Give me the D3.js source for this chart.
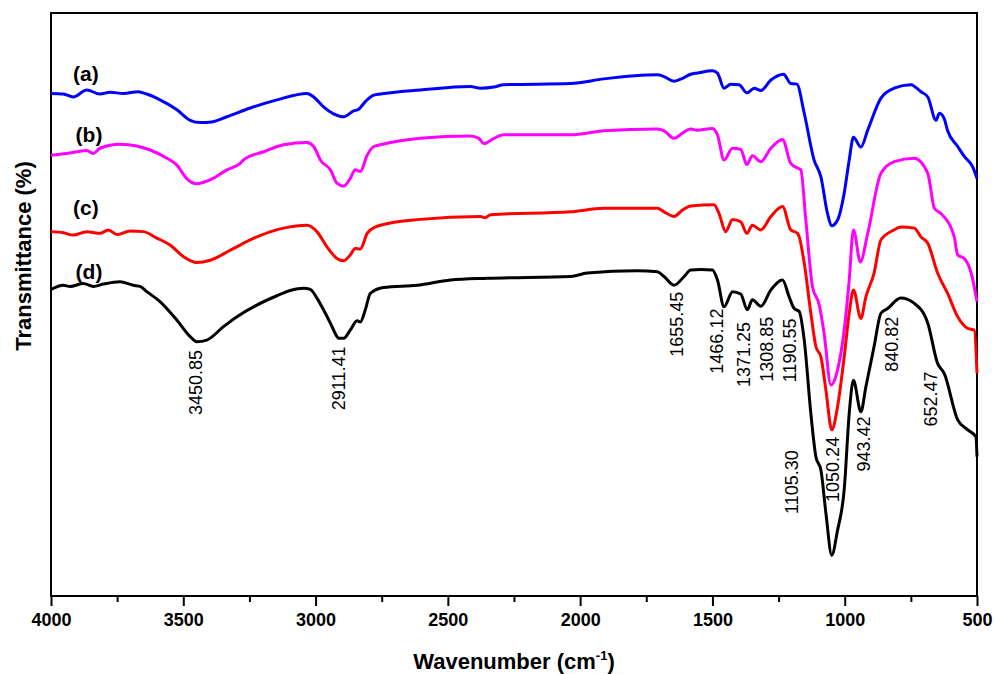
<!DOCTYPE html>
<html>
<head>
<meta charset="utf-8">
<script src="https://cdn.jsdelivr.net/npm/d3@7"></script>
<style>
  body { margin: 0; background: #fff; }
  text { font-family: "Liberation Sans", Arial, sans-serif; }
</style>
</head>
<body>
<svg id="chart" width="994" height="674"></svg>
<script>
// FTIR spectra, [wavenumber (cm-1), transmittance (arb. %)]
const seriesA = [
  [4000,86.2],[3953,86.1],[3916,85.6],[3865,86.8],[3815,86.1],[3777,86.4],[3726,86.2],[3670,86.5],
  [3638,86.1],[3588,85.1],[3524,83.4],[3474,81.6],[3436,81.2],[3392,81.3],[3335,82.2],[3247,83.7],
  [3146,85.1],[3032,86.2],[3007,85.6],[2970,83.9],[2932,82.7],[2894,82.2],[2856,83.2],[2837,83.5],
  [2812,84.8],[2780,85.9],[2755,86.1],[2604,86.8],[2415,87.4],[2377,87.1],[2326,87.3],[2289,87.7],
  [2036,87.9],[1910,88.7],[1708,89.4],[1683,89.1],[1645,88.3],[1613,88.8],[1582,89.5],[1557,89.7],
  [1500,90.1],[1481,89.7],[1456,87.1],[1431,87.8],[1399,87.7],[1370,86.3],[1342,87.1],[1317,86.7],
  [1279,88.5],[1231,89.5],[1204,87.9],[1181,87.8],[1153,82.8],[1116,74.8],[1090,71.9],[1065,65.6],
  [1050,63.5],[1027,64.5],[1002,69.1],[983,74.8],[967,78.7],[939,77.0],[913,79.9],[863,85.4],
  [813,87.1],[750,87.7],[712,86.5],[686,85.6],[655,81.6],[642,82.8],[624,81.9],[611,79.8],
  [573,77.1],[548,75.4],[516,73.6],[500,71.6]
];
const seriesB = [
  [4000,75.6],[3941,75.9],[3865,76.4],[3840,75.9],[3815,76.8],[3739,77.5],[3676,77.2],[3625,76.5],
  [3562,75.1],[3524,73.9],[3487,71.6],[3449,70.7],[3398,71.4],[3335,73.1],[3285,74.2],[3272,74.8],
  [3197,76.2],[3121,77.4],[3032,77.8],[3007,77.1],[2982,74.8],[2944,73.1],[2919,70.8],[2894,70.3],
  [2869,71.6],[2850,73.1],[2831,72.8],[2805,75.6],[2780,77.1],[2755,77.4],[2604,78.5],[2415,78.9],
  [2383,78.5],[2364,77.6],[2326,78.5],[2289,79.1],[2036,79.1],[1910,79.8],[1708,80.1],[1683,79.8],
  [1645,78.5],[1613,79.4],[1582,80.1],[1557,79.9],[1500,80.2],[1481,79.1],[1456,74.8],[1424,76.8],
  [1393,76.6],[1370,74.0],[1349,75.5],[1317,74.5],[1279,76.8],[1235,78.3],[1204,74.2],[1178,73.4],
  [1166,73.1],[1147,64.5],[1122,53.1],[1096,49.9],[1078,45.1],[1052,36.2],[1027,38.8],[1002,45.6],
  [983,54.2],[967,62.8],[941,57.3],[913,62.2],[863,72.5],[813,74.5],[737,75.1],[686,72.5],
  [661,66.5],[636,65.6],[586,61.6],[573,58.5],[548,57.9],[522,55.4],[500,50.5]
];
const seriesC = [
  [4000,62.5],[3953,62.3],[3916,61.9],[3865,62.5],[3815,62.2],[3783,62.8],[3751,62.0],[3701,62.6],
  [3651,62.5],[3600,61.4],[3550,60.2],[3499,58.2],[3449,57.2],[3398,57.6],[3323,59.3],[3222,61.6],
  [3121,63.1],[3032,63.6],[2995,62.5],[2957,59.9],[2919,57.9],[2894,57.5],[2869,58.5],[2850,59.6],
  [2831,59.5],[2805,62.2],[2774,63.3],[2755,63.6],[2604,64.6],[2377,65.1],[2358,64.9],[2339,65.4],
  [2036,65.9],[1910,66.5],[1708,66.5],[1683,65.9],[1645,65.1],[1613,66.2],[1582,66.9],[1494,67.1],
  [1475,65.6],[1450,62.5],[1424,64.6],[1393,64.2],[1370,62.2],[1349,63.6],[1317,62.8],[1279,65.1],
  [1235,66.8],[1204,62.8],[1178,62.2],[1172,61.6],[1153,57.1],[1128,48.5],[1109,42.8],[1090,41.0],
  [1071,35.3],[1049,28.5],[1027,32.5],[1002,41.0],[983,48.5],[967,52.5],[939,47.6],[920,51.3],
  [889,55.4],[863,61.1],[813,62.8],[788,63.3],[737,63.1],[712,61.6],[686,60.5],[649,55.4],
  [611,51.9],[573,47.9],[535,45.9],[510,45.6],[500,38.2]
];
const seriesD = [
  [4000,52.6],[3953,53.3],[3928,53.1],[3878,53.6],[3840,53.1],[3802,53.5],[3739,53.9],[3689,53.3],
  [3663,53.1],[3638,52.2],[3588,50.5],[3524,47.3],[3474,44.5],[3449,43.6],[3411,43.9],[3348,46.2],
  [3297,47.9],[3222,49.9],[3146,51.5],[3096,52.4],[3045,52.8],[3020,52.6],[2995,51.1],[2970,49.1],
  [2944,46.8],[2919,44.5],[2913,44.2],[2894,44.2],[2869,45.6],[2843,47.2],[2831,47.0],[2812,49.1],
  [2793,51.9],[2743,52.9],[2616,53.3],[2490,54.2],[2351,54.5],[2036,54.8],[1973,55.4],[1784,55.8],
  [1708,55.6],[1683,54.8],[1645,53.3],[1607,54.8],[1582,55.9],[1544,56.0],[1500,55.9],[1481,54.2],
  [1456,49.6],[1424,52.2],[1393,51.8],[1368,49.1],[1349,50.8],[1317,49.7],[1279,52.5],[1235,54.2],
  [1210,51.3],[1191,49.3],[1172,48.8],[1153,43.9],[1128,31.3],[1109,23.9],[1090,21.6],[1071,14.2],
  [1049,7.0],[1027,11.3],[1002,18.2],[983,31.3],[967,37.0],[939,31.6],[920,35.9],[889,42.8],
  [863,48.5],[838,49.3],[788,51.1],[737,50.2],[686,46.8],[649,39.9],[624,38.2],[573,30.2],
  [535,28.5],[504,27.3],[500,23.9]
];

const seriesNames = ["(a)", "(b)", "(c)", "(d)"];
const seriesColors = ["#0000ff", "#ff00ff", "#ff0000", "#000000"];
// where each series name sits, in data units [wavenumber, transmittance]
const nameSpots = [[3917, 88.3], [3907, 77.9], [3917, 65.3], [3907, 54.3]];

const peakLabels = ["3450.85", "2911.41", "1655.45", "1466.12", "1371.25", "1308.85",
                    "1190.55", "1105.30", "1050.24", "943.42", "840.82", "652.47"];
// label anchor: [wavenumber of label centre, transmittance at label top]
const peakSpots = [[3455, 42.2], [2913, 42.8], [1636, 52.2], [1484, 49.3], [1383, 47.0], [1295, 47.9],
                   [1207, 47.6], [1201, 25.0], [1046, 27.3], [929, 30.8], [822, 47.9], [677, 38.5]];

const xTicks = [4000, 3500, 3000, 2500, 2000, 1500, 1000, 500];
const xMinor = [3750, 3250, 2750, 2250, 1750, 1250, 750];

const svg = d3.select("#chart");
const mLeft = 51, mRight = 977, mTop = 13, mBottom = 596;

const x = d3.scaleLinear().domain([4000, 500]).range([mLeft, mRight]);
const y = d3.scaleLinear().domain([0, 100]).range([mBottom, mTop]);

// frame
svg.append("rect")
  .attr("x", mLeft).attr("y", mTop)
  .attr("width", mRight - mLeft).attr("height", mBottom - mTop)
  .attr("fill", "none").attr("stroke", "#000").attr("stroke-width", 2);

// x axis
const xAxis = svg.append("g").attr("transform", `translate(0,${mBottom})`);
xAxis.call(d3.axisBottom(x).tickValues(xTicks).tickSize(10).tickFormat(d3.format("d")))
  .call(g => g.select(".domain").remove());
xAxis.selectAll(".tick line").attr("stroke-width", 2);
xAxis.selectAll(".tick text")
  .attr("y", 17).attr("dy", "0.71em")
  .style("font-size", "18px").style("font-weight", "bold").attr("fill", "#000");
svg.append("g").attr("transform", `translate(0,${mBottom})`)
  .call(d3.axisBottom(x).tickValues(xMinor).tickSize(6).tickFormat(""))
  .call(g => g.select(".domain").remove())
  .selectAll(".tick line").attr("stroke-width", 2);

// axis titles
const xt = svg.append("text")
  .attr("x", (mLeft + mRight) / 2).attr("y", 669)
  .attr("text-anchor", "middle")
  .style("font-size", "22px").style("font-weight", "bold");
xt.append("tspan").text("Wavenumber (cm");
xt.append("tspan").text("-1").attr("dy", -9).style("font-size", "13px");
xt.append("tspan").text(")").attr("dy", 9);

svg.append("text")
  .attr("transform", "translate(31,256) rotate(-90)")
  .attr("text-anchor", "middle")
  .style("font-size", "22px").style("font-weight", "bold")
  .text("Transmittance (%)");

// spectra
const line = d3.line().x(d => x(d[0])).y(d => y(d[1])).curve(d3.curveMonotoneX);
[seriesA, seriesB, seriesC, seriesD].forEach((s, i) => {
  svg.append("path")
    .datum(s)
    .attr("d", line)
    .attr("fill", "none")
    .attr("stroke", seriesColors[i])
    .attr("stroke-width", 3)
    .attr("stroke-linejoin", "round");
});

// series names
svg.selectAll(".sname")
  .data(seriesNames)
  .enter()
  .append("text")
  .attr("class", "sname")
  .attr("x", (d, i) => x(nameSpots[i][0]))
  .attr("y", (d, i) => y(nameSpots[i][1]))
  .style("font-size", "21px").style("font-weight", "bold")
  .text(d => d);

// peak labels, rotated
svg.selectAll(".peak")
  .data(peakLabels)
  .enter()
  .append("text")
  .attr("class", "peak")
  .attr("transform", (d, i) => `translate(${x(peakSpots[i][0]) + 6.5},${y(peakSpots[i][1])}) rotate(-90)`)
  .attr("text-anchor", "end")
  .style("font-size", "18px")
  .text(d => d);
</script>
</body>
</html>
